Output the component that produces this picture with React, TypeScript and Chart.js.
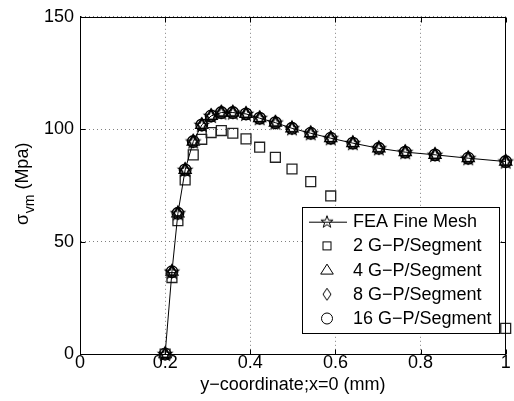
import React, { useEffect, useRef } from 'react';
import { Chart, registerables } from 'chart.js';

Chart.register(...registerables);

// ---- data ----
const xCoords = [0.2, 0.216, 0.23, 0.247, 0.266, 0.286, 0.308, 0.332, 0.359, 0.39, 0.422, 0.459, 0.498, 0.542, 0.589, 0.641, 0.702, 0.764, 0.834, 0.912, 1.0];
const feaFineMesh = [0, 36.6, 62.6, 81.9, 94.5, 101.9, 105.9, 107.4, 107.4, 106.8, 104.9, 102.9, 100.4, 98.2, 96.0, 93.8, 91.5, 89.8, 88.6, 87.1, 85.6];
const gp2 = [0, 34.0, 59.3, 77.4, 88.6, 95.5, 98.5, 99.4, 98.2, 95.7, 92.0, 87.5, 82.3, 76.7, 70.3, null, null, null, null, null, 11.4];
const gp4 = [0, 36.6, 62.6, 81.9, 94.5, 101.9, 105.9, 107.4, 107.4, 106.8, 104.9, 102.9, 100.4, 98.2, 96.0, 93.8, 91.5, 89.8, 88.6, 87.1, 85.6];
const gp8 = [0, 36.6, 62.6, 81.9, 94.5, 101.9, 105.9, 107.4, 107.4, 106.8, 104.9, 102.9, 100.4, 98.2, 96.0, 93.8, 91.5, 89.8, 88.6, 87.1, 85.6];
const gp16 = [0, 36.6, 62.6, 81.9, 94.5, 101.9, 105.9, 107.4, 107.4, 106.8, 104.9, 102.9, 100.4, 98.2, 96.0, 93.8, 91.5, 89.8, 88.6, 87.1, 85.6];

const seriesLabels = ['FEA Fine Mesh', '2 G\u2212P/Segment', '4 G\u2212P/Segment', '8 G\u2212P/Segment', '16 G\u2212P/Segment'];

const xTickValues = [0, 0.2, 0.4, 0.6, 0.8, 1];
const xTickLabels = ['0', '0.2', '0.4', '0.6', '0.8', '1'];
const yTickValues = [0, 50, 100, 150];
const yTickLabels = ['0', '50', '100', '150'];

const xTitle = 'y\u2212coordinate;x=0 (mm)';
const yTitleMain = '\u03c3';
const yTitleSub = 'vm';
const yTitleUnit = ' (Mpa)';

const FONT = '"Liberation Sans", Arial, Helvetica, sans-serif';

function makePentagram(): HTMLCanvasElement {
  const c = document.createElement('canvas');
  c.width = 18;
  c.height = 18;
  const ctx = c.getContext('2d')!;
  ctx.strokeStyle = '#000';
  ctx.lineWidth = 1.2;
  ctx.beginPath();
  const cx = 9, cy = 9.4, R = 7, r = 2.8;
  for (let i = 0; i < 10; i++) {
    const a = -Math.PI / 2 + (i * Math.PI) / 5;
    const rad = i % 2 === 0 ? R : r;
    const px = cx + rad * Math.cos(a);
    const py = cy + rad * Math.sin(a);
    if (i === 0) ctx.moveTo(px, py); else ctx.lineTo(px, py);
  }
  ctx.closePath();
  ctx.stroke();
  return c;
}

function makeLegendStar(): HTMLCanvasElement {
  const c = document.createElement('canvas');
  c.width = 16;
  c.height = 16;
  const ctx = c.getContext('2d')!;
  ctx.strokeStyle = '#000';
  ctx.lineWidth = 1;
  ctx.beginPath();
  const cx = 8, cy = 8.3, R = 6.4, r = 2.5;
  for (let i = 0; i < 10; i++) {
    const a = -Math.PI / 2 + (i * Math.PI) / 5;
    const rad = i % 2 === 0 ? R : r;
    const px = cx + rad * Math.cos(a);
    const py = cy + rad * Math.sin(a);
    if (i === 0) ctx.moveTo(px, py); else ctx.lineTo(px, py);
  }
  ctx.closePath();
  ctx.stroke();
  return c;
}

function makeDiamond(lw: number): HTMLCanvasElement {
  const c = document.createElement('canvas');
  c.width = 12;
  c.height = 16;
  const ctx = c.getContext('2d')!;
  ctx.strokeStyle = '#000';
  ctx.lineWidth = lw;
  ctx.beginPath();
  ctx.moveTo(6, 2);
  ctx.lineTo(10, 8);
  ctx.lineTo(6, 14);
  ctx.lineTo(2, 8);
  ctx.closePath();
  ctx.stroke();
  return c;
}

function drawMarker(ctx: CanvasRenderingContext2D, kind: number, x: number, y: number, star: HTMLCanvasElement, diamond: HTMLCanvasElement) {
  ctx.save();
  ctx.strokeStyle = '#000';
  ctx.lineWidth = 1;
  if (kind === 0) {
    ctx.beginPath();
    ctx.moveTo(309, y + 0.5);
    ctx.lineTo(347, y + 0.5);
    ctx.stroke();
    ctx.drawImage(star, x - star.width / 2, y - star.height / 2);
  } else if (kind === 1) {
    ctx.strokeRect(x - 4, y - 4, 8, 8);
  } else if (kind === 2) {
    ctx.beginPath();
    ctx.moveTo(x, y - 6);
    ctx.lineTo(x + 6.3, y + 4);
    ctx.lineTo(x - 6.3, y + 4);
    ctx.closePath();
    ctx.stroke();
  } else if (kind === 3) {
    ctx.drawImage(diamond, x - diamond.width / 2, y - diamond.height / 2);
  } else {
    ctx.beginPath();
    ctx.arc(x, y, 5.5, 0, Math.PI * 2);
    ctx.stroke();
  }
  ctx.restore();
}

export default function App() {
  const ref = useRef<HTMLCanvasElement>(null);

  useEffect(() => {
    if (!ref.current) return;
    const star = makePentagram();
    const legendStar = makeLegendStar();
    const diamond = makeDiamond(1.2);
    const legendDiamond = makeDiamond(1);

    const framePlugin = {
      id: 'frame',
      afterDraw(chart: any) {
        const ctx: CanvasRenderingContext2D = chart.ctx;
        const { left, right, top, bottom } = chart.chartArea;
        const xs = chart.scales.x;
        const ys = chart.scales.y;
        ctx.save();
        ctx.strokeStyle = '#000';
        ctx.lineWidth = 1;
        const L = Math.round(left) + 0.5;
        const R = Math.round(right) - 0.5;
        const T = Math.round(top) + 0.5;
        const B = Math.round(bottom) + 0.5;
        ctx.strokeRect(L, T, R - L, B - T);
        ctx.beginPath();
        xTickValues.forEach((v) => {
          const px = Math.round(xs.getPixelForValue(v)) + 0.5;
          ctx.moveTo(px, B);
          ctx.lineTo(px, B - 5);
          ctx.moveTo(px, T);
          ctx.lineTo(px, T + 5);
        });
        yTickValues.forEach((v) => {
          const py = Math.round(ys.getPixelForValue(v)) + 0.5;
          ctx.moveTo(L, py);
          ctx.lineTo(L + 5, py);
          ctx.moveTo(R, py);
          ctx.lineTo(R - 5, py);
        });
        ctx.stroke();

        // y title with subscript
        ctx.fillStyle = '#000';
        ctx.textBaseline = 'alphabetic';
        ctx.textAlign = 'left';
        const mainFont = `18px ${FONT}`;
        const subFont = `14px ${FONT}`;
        ctx.font = mainFont;
        const w1 = ctx.measureText(yTitleMain).width;
        const w3 = ctx.measureText(yTitleUnit).width;
        ctx.font = subFont;
        const w2 = ctx.measureText(yTitleSub).width;
        const total = w1 + w2 + w3;
        ctx.translate(28, 184);
        ctx.rotate(-Math.PI / 2);
        let sx = -total / 2;
        ctx.font = mainFont;
        ctx.fillText(yTitleMain, sx, 0);
        sx += w1 + 0.5;
        ctx.font = subFont;
        ctx.fillText(yTitleSub, sx, 5.5);
        sx += w2;
        ctx.font = mainFont;
        ctx.fillText(yTitleUnit, sx, 0);
        ctx.restore();

        // legend
        ctx.save();
        const lx0 = 302, ly0 = 207, lx1 = 499, ly1 = 333;
        ctx.fillStyle = '#fff';
        ctx.fillRect(lx0, ly0, lx1 - lx0, ly1 - ly0);
        ctx.strokeStyle = '#000';
        ctx.lineWidth = 1;
        ctx.strokeRect(lx0 + 0.5, ly0 + 0.5, lx1 - lx0, ly1 - ly0);
        ctx.font = `18px ${FONT}`;
        ctx.fillStyle = '#000';
        ctx.textBaseline = 'middle';
        ctx.textAlign = 'left';
        chart.data.datasets.forEach((ds: any, i: number) => {
          const ry = ly0 + 14.7 + i * 24.2;
          drawMarker(ctx, i, 327, ry, legendStar, legendDiamond);
          ctx.fillText(ds.label, 353, ry + 0.5);
        });
        ctx.restore();
      },
    };

    const toPts = (arr: (number | null)[]) => xCoords.map((x, i) => ({ x, y: arr[i] }));

    const chart = new Chart(ref.current, {
      type: 'scatter',
      data: {
        datasets: [
          {
            label: seriesLabels[0],
            data: toPts(feaFineMesh),
            showLine: true,
            borderColor: '#000',
            borderWidth: 1,
            backgroundColor: 'transparent',
            pointStyle: star as any,
            pointRadius: 7,
            tension: 0,
            clip: false as any,
          },
          {
            label: seriesLabels[1],
            data: toPts(gp2),
            showLine: false,
            pointStyle: 'rect',
            pointRadius: 7,
            pointBorderWidth: 1.3,
            borderColor: '#222',
            backgroundColor: 'transparent',
            clip: false as any,
          },
          {
            label: seriesLabels[2],
            data: toPts(gp4),
            showLine: false,
            pointStyle: 'triangle',
            pointRadius: 7,
            pointBorderWidth: 1.3,
            borderColor: '#000',
            backgroundColor: 'transparent',
            clip: false as any,
          },
          {
            label: seriesLabels[3],
            data: toPts(gp8),
            showLine: false,
            pointStyle: diamond as any,
            pointRadius: 6,
            borderColor: '#000',
            backgroundColor: 'transparent',
            clip: false as any,
          },
          {
            label: seriesLabels[4],
            data: toPts(gp16),
            showLine: false,
            pointStyle: 'circle',
            pointRadius: 5.8,
            pointBorderWidth: 1.3,
            borderColor: '#000',
            backgroundColor: 'transparent',
            clip: false as any,
          },
        ],
      },
      options: {
        animation: false,
        responsive: false,
        maintainAspectRatio: false,
        events: [],
        layout: { padding: { top: 16, right: 6, left: 0, bottom: 0 } },
        plugins: {
          legend: { display: false },
          tooltip: { enabled: false },
        },
        scales: {
          x: {
            type: 'linear',
            min: 0,
            max: 1,
            afterBuildTicks: (s: any) => {
              s.ticks = xTickValues.map((v) => ({ value: v }));
            },
            afterFit: (s: any) => {
              s.height = 47;
            },
            ticks: {
              autoSkip: false,
              maxRotation: 0,
              padding: 0,
              color: '#000',
              font: { family: FONT, size: 18, lineHeight: 1 },
              callback: (v: any) => {
                const i = xTickValues.findIndex((t) => Math.abs(t - Number(v)) < 1e-9);
                return i >= 0 ? xTickLabels[i] : '';
              },
            },
            grid: {
              display: true,
              color: '#808080',
              lineWidth: 1,
              drawTicks: false,
            },
            border: { display: true, color: '#000', width: 1, dash: [1, 3] },
            title: {
              display: true,
              text: xTitle,
              color: '#000',
              font: { family: FONT, size: 18 },
              padding: { top: 0, bottom: 5 },
            },
          },
          y: {
            type: 'linear',
            min: 0,
            max: 150,
            afterBuildTicks: (s: any) => {
              s.ticks = yTickValues.map((v) => ({ value: v }));
            },
            afterFit: (s: any) => {
              s.width = 80;
            },
            ticks: {
              autoSkip: false,
              padding: 6,
              color: '#000',
              font: { family: FONT, size: 18 },
              callback: (v: any) => {
                const i = yTickValues.findIndex((t) => Math.abs(t - Number(v)) < 1e-9);
                return i >= 0 ? yTickLabels[i] : '';
              },
            },
            grid: {
              display: true,
              color: '#808080',
              lineWidth: 1,
              drawTicks: false,
            },
            border: { display: true, color: '#000', width: 1, dash: [1, 3] },
          },
        },
      },
      plugins: [framePlugin],
    } as any);

    return () => chart.destroy();
  }, []);

  return (
    <div style={{ position: 'fixed', left: 0, top: 0, width: 514, height: 401, background: '#fff' }}>
      <canvas ref={ref} width={514} height={401} style={{ width: 514, height: 401, display: 'block' }} />
    </div>
  );
}
